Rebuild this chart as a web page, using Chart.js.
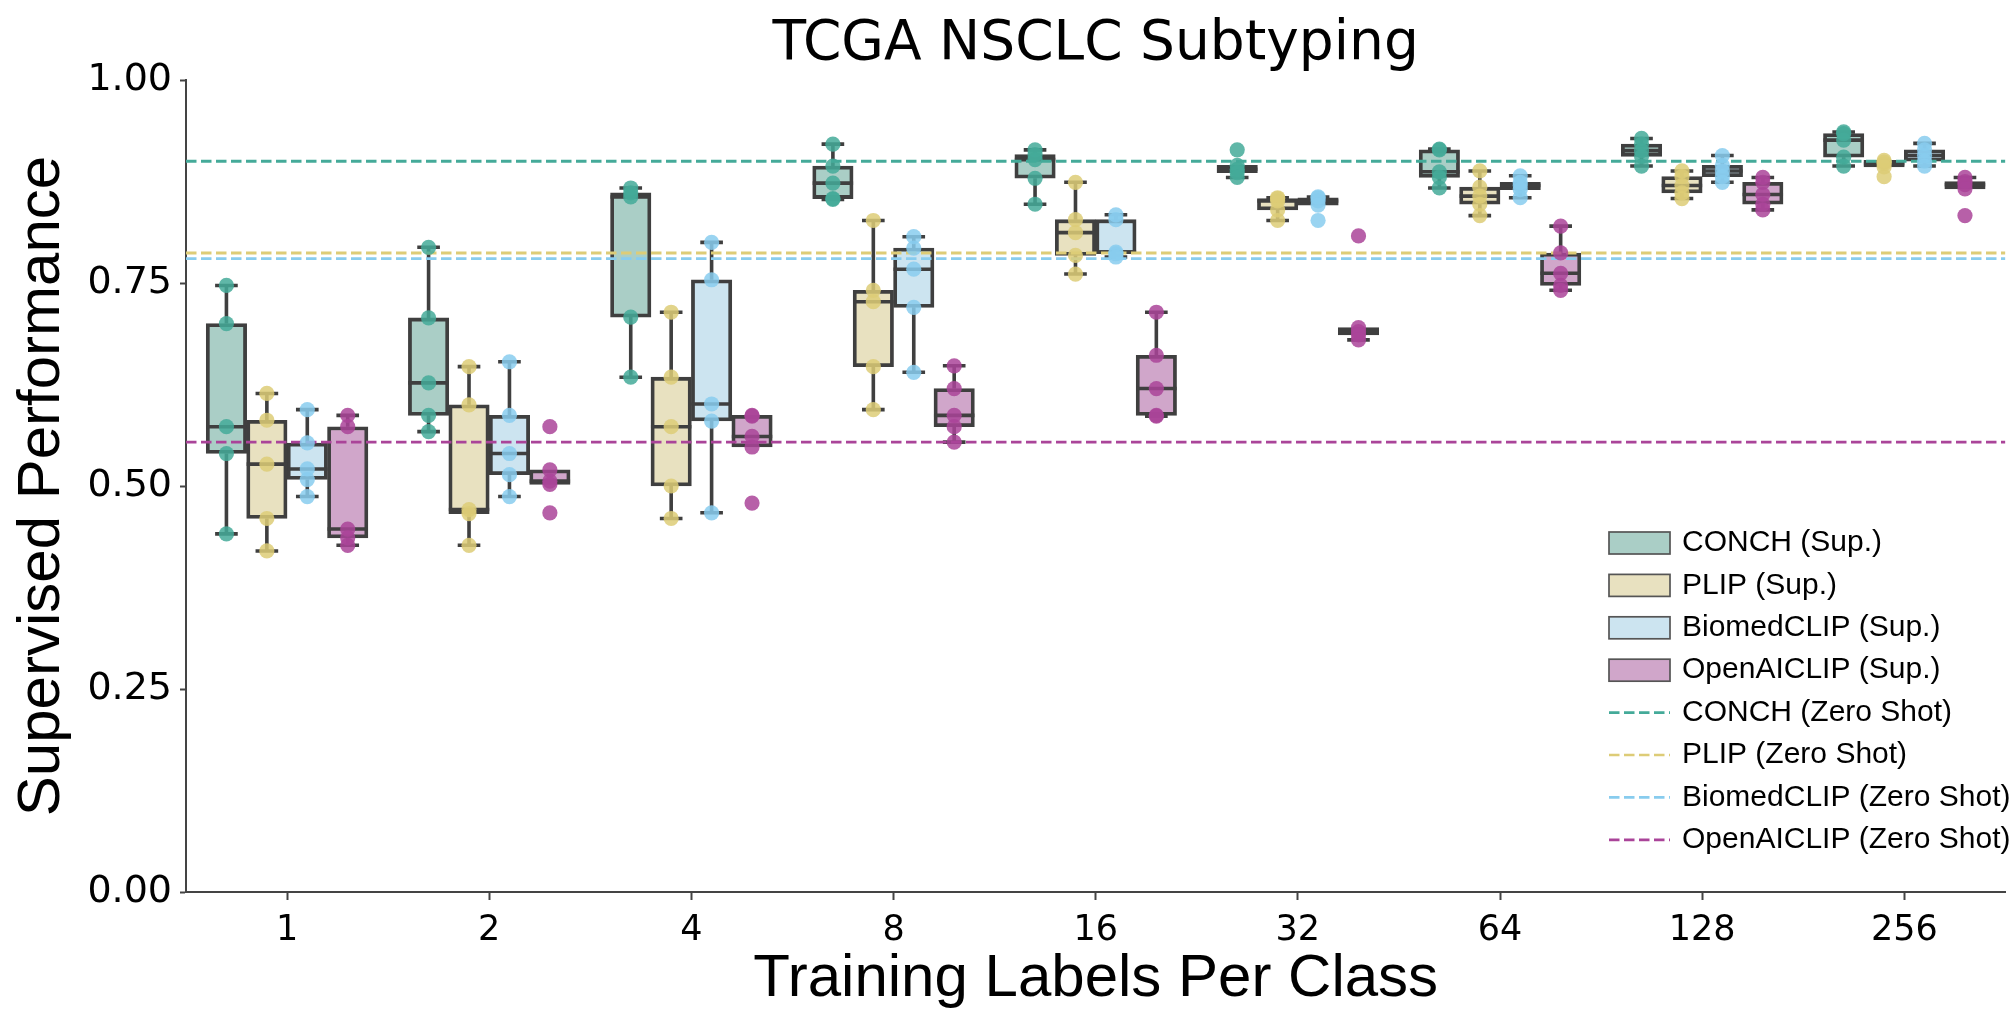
<!DOCTYPE html>
<html>
<head>
<meta charset="utf-8">
<title>TCGA NSCLC Subtyping</title>
<script src="https://cdn.jsdelivr.net/npm/chart.js@4.4.1/dist/chart.umd.min.js"></script>
<style>
  html, body { margin: 0; padding: 0; background: #ffffff; }
  canvas { display: block; }
</style>
</head>
<body>
<canvas id="chart" width="2013" height="1011"></canvas>
<script>
// ---- data -------------------------------------------------------------
const categories = ['1', '2', '4', '8', '16', '32', '64', '128', '256'];
const modelNames = ['CONCH', 'PLIP', 'BiomedCLIP', 'OpenAICLIP'];
const yTickLabels = ['0.00', '0.25', '0.50', '0.75', '1.00'];

// five supervised runs per label budget
const conchRuns = [
  [0.747, 0.700, 0.573, 0.540, 0.441],
  [0.794, 0.707, 0.627, 0.587, 0.567],
  [0.867, 0.861, 0.856, 0.708, 0.634],
  [0.921, 0.894, 0.873, 0.854, 0.853],
  [0.914, 0.908, 0.902, 0.879, 0.847],
  [0.914, 0.895, 0.890, 0.886, 0.880],
  [0.915, 0.914, 0.887, 0.880, 0.867],
  [0.928, 0.921, 0.913, 0.906, 0.894],
  [0.936, 0.934, 0.926, 0.905, 0.894]
];
const plipRuns = [
  [0.614, 0.581, 0.527, 0.460, 0.420],
  [0.647, 0.600, 0.471, 0.466, 0.427],
  [0.714, 0.634, 0.573, 0.500, 0.460],
  [0.827, 0.741, 0.727, 0.647, 0.594],
  [0.874, 0.828, 0.812, 0.784, 0.761],
  [0.855, 0.854, 0.851, 0.840, 0.827],
  [0.888, 0.868, 0.857, 0.847, 0.833],
  [0.888, 0.881, 0.870, 0.861, 0.854],
  [0.901, 0.899, 0.897, 0.893, 0.881]
];
const biomedRuns = [
  [0.594, 0.553, 0.521, 0.508, 0.487],
  [0.653, 0.587, 0.540, 0.514, 0.487],
  [0.800, 0.754, 0.601, 0.580, 0.467],
  [0.807, 0.793, 0.767, 0.720, 0.640],
  [0.834, 0.828, 0.788, 0.786, 0.782],
  [0.856, 0.855, 0.851, 0.846, 0.827],
  [0.882, 0.874, 0.870, 0.865, 0.855],
  [0.907, 0.895, 0.888, 0.881, 0.874],
  [0.922, 0.914, 0.907, 0.900, 0.894]
];
const openaiRuns = [
  [0.587, 0.573, 0.447, 0.436, 0.427],
  [0.573, 0.520, 0.506, 0.502, 0.467],
  [0.587, 0.586, 0.561, 0.548, 0.479],
  [0.648, 0.620, 0.587, 0.573, 0.554],
  [0.714, 0.661, 0.620, 0.587, 0.586],
  [0.808, 0.695, 0.690, 0.686, 0.680],
  [0.820, 0.787, 0.762, 0.747, 0.741],
  [0.880, 0.874, 0.859, 0.847, 0.840],
  [0.880, 0.875, 0.871, 0.866, 0.833]
];

// box summaries: [lower whisker, q1, median, q3, upper whisker]
const conchBoxes = [
  [0.441, 0.540, 0.573, 0.700, 0.747],
  [0.567, 0.587, 0.627, 0.707, 0.794],
  [0.634, 0.708, 0.856, 0.861, 0.867],
  [0.853, 0.854, 0.873, 0.894, 0.921],
  [0.847, 0.879, 0.902, 0.908, 0.914],
  [0.880, 0.886, 0.890, 0.895, 0.895],
  [0.867, 0.880, 0.887, 0.914, 0.915],
  [0.894, 0.906, 0.913, 0.921, 0.928],
  [0.894, 0.905, 0.926, 0.934, 0.936]
];
const plipBoxes = [
  [0.420, 0.460, 0.527, 0.581, 0.614],
  [0.427, 0.466, 0.471, 0.600, 0.647],
  [0.460, 0.500, 0.573, 0.634, 0.714],
  [0.594, 0.647, 0.727, 0.741, 0.827],
  [0.761, 0.784, 0.812, 0.828, 0.874],
  [0.827, 0.840, 0.851, 0.854, 0.855],
  [0.833, 0.847, 0.857, 0.868, 0.888],
  [0.854, 0.861, 0.870, 0.881, 0.888],
  [0.893, 0.893, 0.897, 0.901, 0.901]
];
const biomedBoxes = [
  [0.487, 0.508, 0.521, 0.553, 0.594],
  [0.487, 0.514, 0.540, 0.587, 0.653],
  [0.467, 0.580, 0.601, 0.754, 0.800],
  [0.640, 0.720, 0.767, 0.793, 0.807],
  [0.782, 0.786, 0.788, 0.828, 0.834],
  [0.846, 0.846, 0.851, 0.855, 0.856],
  [0.855, 0.865, 0.870, 0.874, 0.882],
  [0.874, 0.881, 0.888, 0.895, 0.907],
  [0.894, 0.900, 0.907, 0.914, 0.922]
];
const openaiBoxes = [
  [0.427, 0.436, 0.447, 0.573, 0.587],
  [0.502, 0.502, 0.506, 0.520, 0.520],
  [0.548, 0.548, 0.561, 0.587, 0.587],
  [0.554, 0.573, 0.587, 0.620, 0.648],
  [0.586, 0.587, 0.620, 0.661, 0.714],
  [0.680, 0.686, 0.690, 0.695, 0.695],
  [0.741, 0.747, 0.762, 0.787, 0.820],
  [0.840, 0.847, 0.859, 0.874, 0.880],
  [0.866, 0.866, 0.871, 0.875, 0.880]
];

// zero-shot reference scores
const zeroShot = [0.900, 0.787, 0.780, 0.554];

// ---- styling ----------------------------------------------------------
const lineColors  = ['#44AA99', '#DDCC77', '#88CCEE', '#AA4499'];
const pointColors = ['rgba(68,170,153,0.85)', 'rgba(221,204,119,0.85)',
                     'rgba(136,204,238,0.85)', 'rgba(170,68,153,0.85)'];
const fillColors  = ['#aacec6', '#e8e1c0', '#cce4f0', '#d0a6ca'];
const edgeColor = '#3f3f3f';

const allRuns  = [conchRuns, plipRuns, biomedRuns, openaiRuns];
const allBoxes = [conchBoxes, plipBoxes, biomedBoxes, openaiBoxes];

const groupShare = 0.8;                       // share of a category used by the boxes
const hueWidth = groupShare / modelNames.length;
const hueOffset = j => (j - (modelNames.length - 1) / 2) * hueWidth;

// ---- datasets ---------------------------------------------------------
// boxes live on the numeric axis "xs", dodged by model inside each category
const boxSets = modelNames.map((m, j) => ({
  type: 'bar',
  label: m + ' (Sup.)',
  data: allBoxes[j].map((b, i) => ({ x: i + hueOffset(j), y: [b[1], b[3]] })),
  boxes: allBoxes[j],
  xAxisID: 'xs',
  grouped: false,
  backgroundColor: fillColors[j],
  borderColor: edgeColor,
  borderWidth: 3.8,
  borderSkipped: false,
  categoryPercentage: 1.0,
  barPercentage: 1.0,
  order: 3
}));

const zeroShotSets = modelNames.map((m, j) => ({
  type: 'line',
  label: m + ' (Zero Shot)',
  data: [{ x: -0.5, y: zeroShot[j] }, { x: categories.length - 0.5, y: zeroShot[j] }],
  xAxisID: 'xs',
  borderColor: lineColors[j],
  borderWidth: 2.9,
  borderDash: [10.5, 4.5],
  pointRadius: 0,
  fill: false,
  order: 2
}));

const runSets = modelNames.map((m, j) => {
  const pts = [];
  allRuns[j].forEach((runs, i) => runs.forEach(v => pts.push({ x: i + hueOffset(j), y: v })));
  return {
    type: 'scatter',
    label: m + ' runs',
    data: pts,
    xAxisID: 'xs',
    backgroundColor: pointColors[j],
    borderWidth: 0,
    pointRadius: 7.6,
    pointHoverRadius: 7.6,
    order: 1
  };
});

// ---- plugins ----------------------------------------------------------
// whiskers, caps and median lines for every box
const boxWhiskers = {
  id: 'boxWhiskers',
  afterDatasetDraw(chart, args) {
    const ds = chart.data.datasets[args.index];
    if (!ds.boxes) return;
    const ys = chart.scales.y;
    const ctx = chart.ctx;
    ctx.save();
    ctx.strokeStyle = edgeColor;
    ctx.lineWidth = 3.6;
    ctx.lineCap = 'butt';
    args.meta.data.forEach((bar, i) => {
      const [lo, q1, med, q3, hi] = ds.boxes[i];
      const half = bar.width / 2;
      const cap = bar.width * 0.28;
      const px = v => ys.getPixelForValue(v);
      ctx.beginPath();
      if (hi > q3) {
        ctx.moveTo(bar.x, px(q3)); ctx.lineTo(bar.x, px(hi));
        ctx.moveTo(bar.x - cap, px(hi)); ctx.lineTo(bar.x + cap, px(hi));
      }
      if (lo < q1) {
        ctx.moveTo(bar.x, px(q1)); ctx.lineTo(bar.x, px(lo));
        ctx.moveTo(bar.x - cap, px(lo)); ctx.lineTo(bar.x + cap, px(lo));
      }
      ctx.moveTo(bar.x - half, px(med)); ctx.lineTo(bar.x + half, px(med));
      ctx.stroke();
    });
    ctx.restore();
  }
};

// legend block in the lower right of the plot
const sideLegend = {
  id: 'sideLegend',
  afterDraw(chart, args, opts) {
    const ctx = chart.ctx;
    const rows = chart.data.datasets.filter(d => d.type === 'bar')
      .concat(chart.data.datasets.filter(d => d.type === 'line'));
    ctx.save();
    ctx.font = opts.fontSize + 'px ' + opts.fontFamily;
    ctx.textBaseline = 'middle';
    ctx.textAlign = 'left';
    rows.forEach((ds, k) => {
      const cy = opts.top + k * opts.rowGap;
      if (ds.type === 'bar') {
        ctx.fillStyle = ds.backgroundColor;
        ctx.fillRect(opts.left, cy - opts.swatchH / 2, opts.swatchW, opts.swatchH);
        ctx.strokeStyle = '#555555';
        ctx.lineWidth = 1.7;
        ctx.setLineDash([]);
        ctx.strokeRect(opts.left, cy - opts.swatchH / 2, opts.swatchW, opts.swatchH);
      } else {
        ctx.strokeStyle = ds.borderColor;
        ctx.lineWidth = 2.7;
        ctx.setLineDash(ds.borderDash);
        ctx.beginPath();
        ctx.moveTo(opts.left, cy);
        ctx.lineTo(opts.left + opts.swatchW, cy);
        ctx.stroke();
        ctx.setLineDash([]);
      }
      ctx.fillStyle = '#000000';
      ctx.fillText(ds.label, opts.textLeft, cy);
    });
    ctx.restore();
  }
};

// ---- chart ------------------------------------------------------------
new Chart(document.getElementById('chart'), {
  type: 'bar',
  data: {
    labels: categories,
    datasets: [...boxSets, ...zeroShotSets, ...runSets]
  },
  plugins: [boxWhiskers, sideLegend],
  options: {
    responsive: false,
    animation: false,
    events: [],
    layout: { padding: { top: 0, right: 4, bottom: 0, left: 0 } },
    plugins: {
      legend: { display: false },
      tooltip: { enabled: false },
      title: {
        display: true,
        text: 'TCGA NSCLC Subtyping',
        fullSize: false,
        color: '#000000',
        font: { family: 'DejaVu Sans', size: 55, weight: 'normal', lineHeight: 1.2 },
        padding: { top: 12, bottom: 2 }
      },
      sideLegend: {
        left: 1609, top: 543, rowGap: 42.4, swatchW: 61, swatchH: 22,
        textLeft: 1682, fontSize: 30, fontFamily: '"Liberation Sans", Arial, sans-serif'
      }
    },
    scales: {
      x: {
        type: 'category',
        offset: true,
        afterFit(scale) { scale.height = 119; },
        grid: { display: true, drawOnChartArea: false, offset: false,
                tickLength: 8, tickColor: '#444444', tickWidth: 2 },
        border: { display: true, color: '#444444', width: 2 },
        ticks: { padding: 10, color: '#000000', maxRotation: 0, autoSkip: false,
                 font: { family: 'DejaVu Sans', size: 35 } },
        title: { display: true, text: 'Training Labels Per Class', color: '#000000',
                 font: { family: 'Liberation Sans', size: 60, lineHeight: 1 },
                 padding: { top: 0, bottom: 2 } }
      },
      xs: {
        type: 'linear',
        axis: 'x',
        display: false,
        offset: false,
        min: -0.5,
        max: categories.length - 0.5
      },
      y: {
        min: 0,
        max: 1,
        afterFit(scale) { scale.width = 186; },
        grid: { display: true, drawOnChartArea: false,
                tickLength: 6, tickColor: '#444444', tickWidth: 2 },
        border: { display: true, color: '#444444', width: 2 },
        ticks: { stepSize: 0.25, padding: 8, color: '#000000',
                 font: { family: 'DejaVu Sans', size: 38 },
                 callback: v => yTickLabels[Math.round(v / 0.25)] },
        title: { display: true, text: 'Supervised Performance', color: '#000000',
                 font: { family: 'Liberation Sans', size: 60, lineHeight: 1 },
                 padding: { top: 12, bottom: 0 } }
      }
    }
  }
});
</script>
</body>
</html>
